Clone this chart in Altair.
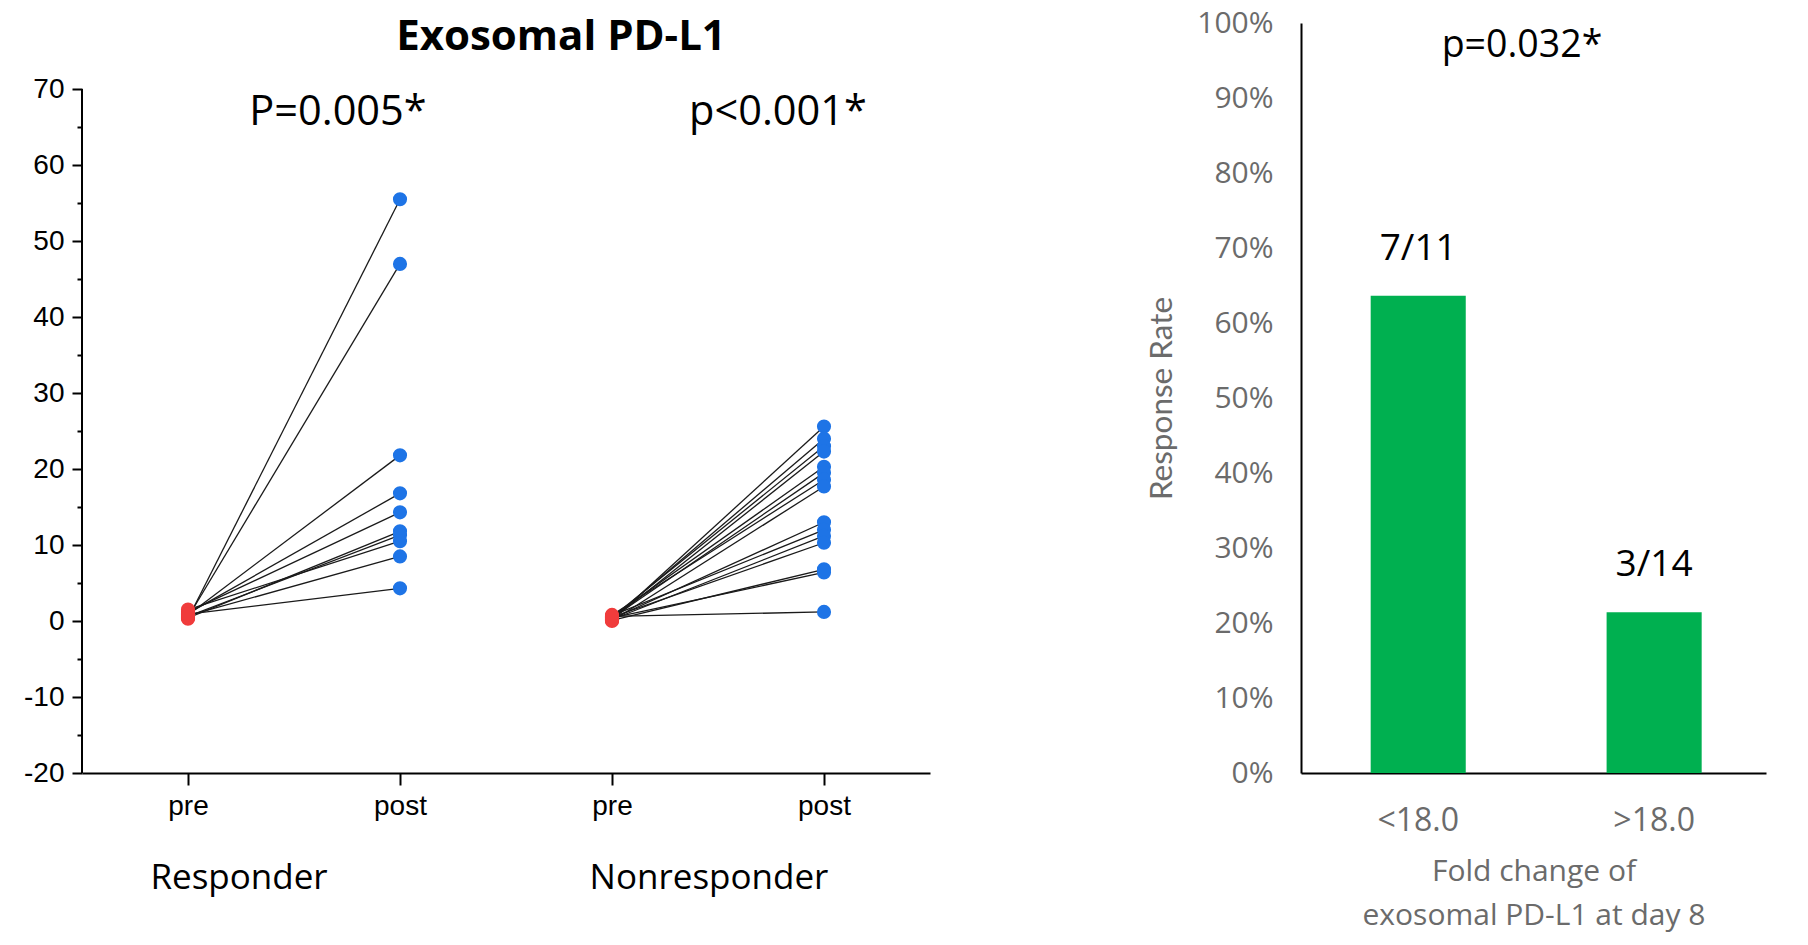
import altair as alt
import pandas as pd

# ---------------- data ----------------
resp_pre = [0.3, 0.5, 0.8, 1.0, 1.2, 0.4, 0.6, 1.5, 0.7, 0.9]
resp_post = [55.5, 47.0, 21.8, 16.8, 14.3, 11.8, 11.3, 10.5, 8.5, 4.3]
nonresp_pre = [0.1, 0.3, 0.5, 0.2, 0.6, 0.4, 0.8, 0.0, 0.3, 0.7, 0.2, 0.5, 0.1, 0.4, 0.6]
nonresp_post = [25.6, 24.0, 23.0, 22.3, 20.3, 19.5, 18.6, 17.7, 13.0, 12.0, 11.2, 10.3, 6.8, 6.4, 1.2]

time_labels = ["pre", "post"]
group_labels = ["Responder", "Nonresponder"]
pvals_left = ["P=0.005*", "p<0.001*"]

fc_groups = ["<18.0", ">18.0"]
n_responders = [7, 3]
n_total = [11, 14]
pval_right = "p=0.032*"

# ---------------- tables ----------------
rows = []
for gi, (pre, post) in enumerate([(resp_pre, resp_post), (nonresp_pre, nonresp_post)]):
    for i, (a, b) in enumerate(zip(pre, post)):
        sid = f"{gi}-{i}"
        rows.append({"subject": sid, "pos": 2 * gi + 1, "time": time_labels[0], "value": a})
        rows.append({"subject": sid, "pos": 2 * gi + 2, "time": time_labels[1], "value": b})
df = pd.DataFrame(rows)

df_bar = pd.DataFrame({
    "grp": fc_groups,
    "rate": [r / t for r, t in zip(n_responders, n_total)],
    "frac": [f"{r}/{t}" for r, t in zip(n_responders, n_total)],
})

SEGOE = "Open Sans"
ARIAL = "Liberation Sans"
GRAY = "#6b6b6b"

LW, LH = 848, 750
RW, RH = 465, 750

x_enc = alt.X(
    "pos:Q",
    scale=alt.Scale(domain=[0.5, 4.5], nice=False, zero=False),
    axis=alt.Axis(
        values=[1, 2, 3, 4],
        labelExpr="datum.value % 2 == 1 ? 'pre' : 'post'",
        title=None, grid=False,
        domainColor="black", domainWidth=2,
        tickColor="black", tickWidth=2, tickSize=12,
        labelFont=ARIAL, labelFontSize=28, labelColor="black", labelPadding=7,
    ),
)
y_enc = alt.Y(
    "value:Q",
    scale=alt.Scale(domain=[-20, 78.7], nice=False, zero=False),
    axis=alt.Axis(
        values=list(range(-20, 75, 5)),
        labelExpr="datum.value % 10 == 0 ? '' + datum.value : ''",
        title=None, grid=False, domain=False,
        tickColor="black", tickWidth=2,
        tickSize={"condition": {"test": "datum.value % 10 === 0", "value": 10}, "value": 5},
        labelFont=ARIAL, labelFontSize=28, labelColor="black", labelPadding=8,
    ),
)

lines = alt.Chart(df).mark_line(color="#1a1a1a", strokeWidth=1.3).encode(
    x=x_enc, y=y_enc, detail="subject:N", order="pos:Q"
)
points = alt.Chart(df).mark_circle(size=200, opacity=1).encode(
    x=x_enc, y=y_enc,
    color=alt.Color("time:N", scale=alt.Scale(domain=time_labels, range=["#f03c3c", "#1e74e6"]), legend=None),
)
yline = alt.Chart(pd.DataFrame({"lo": [-20], "hi": [70]})).mark_rule(color="black", strokeWidth=2).encode(
    x=alt.value(0),
    y=alt.Y("lo:Q"),
    y2="hi:Q",
)


def label(text, x, y, size, font=SEGOE, weight="normal", color="black"):
    return alt.Chart(pd.DataFrame({"t": [text]})).mark_text(
        font=font, fontSize=size, fontWeight=weight, color=color,
        align="center", baseline="middle",
    ).encode(x=alt.value(x), y=alt.value(y), text="t:N")


left = alt.layer(
    lines, points, yline,
    label("Exosomal PD-L1", 479, 14, 42, weight="bold"),
    label(pvals_left[0], 256, 90, 41.5),
    label(pvals_left[1], 696, 90, 41.5),
    label(group_labels[0], 157, 855, 35),
    label(group_labels[1], 627, 855, 35),
).properties(width=LW, height=LH)

bx = alt.X(
    "grp:N", sort=fc_groups,
    scale=alt.Scale(paddingInner=0.597, paddingOuter=0.284, align=0.52),
    axis=alt.Axis(
        title=["Fold change of", "exosomal PD-L1 at day 8"],
        labelAngle=0, ticks=False, domainColor="black", domainWidth=2,
        labelFont=SEGOE, labelFontSize=32, labelColor=GRAY, labelPadding=32,
        titleFont=SEGOE, titleFontSize=30, titleColor=GRAY, titleFontWeight="normal",
        titleLineHeight=44, titlePadding=20,
    ),
)
by = alt.Y(
    "rate:Q",
    scale=alt.Scale(domain=[0, 1], nice=False),
    axis=alt.Axis(
        values=[i / 10 for i in range(11)], format=".0%",
        ticks=False, grid=False, domainColor="black", domainWidth=2,
        labelFont=SEGOE, labelFontSize=30, labelColor=GRAY, labelPadding=28,
        title="Response Rate", titleFont="Lato", titleFontSize=31.5, titleColor=GRAY,
        titleFontWeight="normal", titlePadding=18,
    ),
)
bars = alt.Chart(df_bar).mark_bar(color="#00B050").encode(x=bx, y=by)
bar_text = alt.Chart(df_bar).mark_text(font=SEGOE, fontSize=37, dy=-47, color="black").encode(
    x=bx, y=by, text="frac:N"
)
right = alt.layer(
    bars, bar_text, label(pval_right, 221, 23, 37.5)
).properties(width=RW, height=RH)

chart = alt.hconcat(left, right, spacing=371, bounds="flush").properties(
    padding={"left": 15, "top": 0, "right": 5, "bottom": 5},
    background="white",
).configure_view(stroke=None)

chart.save("out.html", embed_options={"renderer": "svg", "actions": False})
